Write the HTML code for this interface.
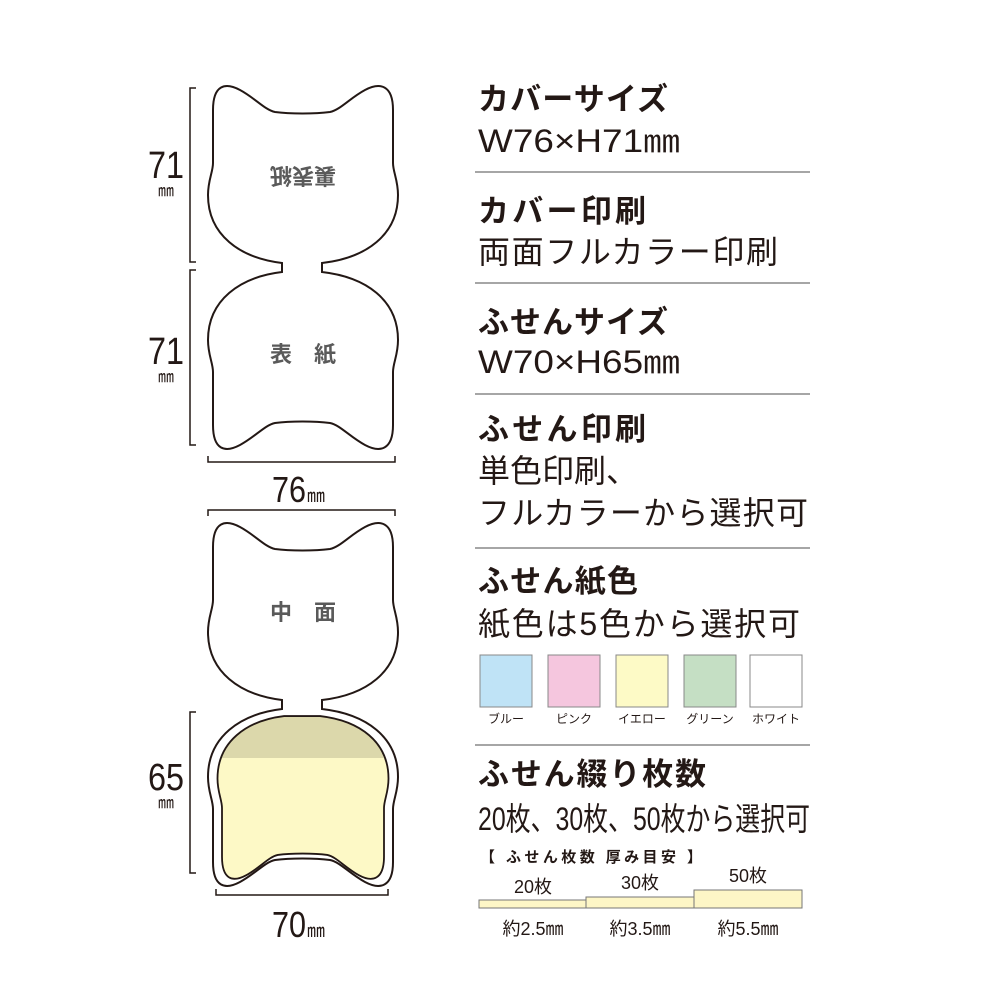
<!DOCTYPE html>
<html><head><meta charset="utf-8"><style>
html,body{margin:0;padding:0;background:#fff;}
svg{display:block;}
text{font-family:"Liberation Sans","Noto Sans CJK JP",sans-serif;fill:#231815;}
.h{font-size:31px;font-weight:bold;}
.r{font-size:32px;}
.lab{font-size:12px;}
.g{fill:#5a5a5a;font-weight:bold;font-size:22px;}
</style></head><body>
<svg width="1000" height="1000" viewBox="0 0 1000 1000" xmlns="http://www.w3.org/2000/svg">
<defs>
<path id="cat2" d="M282 263 C240 258,208 235,208 195 C208 180,213 172,213 163 L213 110 C213 85,225 82,240 90 C255 98,265 110,275 112 C290 114,315 114,330 112 C340 110,350 98,365 90 C380 82,393 85,393 110 L393 163 C393 172,398 180,398 195 C398 235,366 258,322 263 L322 272 C366 277,398 300,398 340 C398 355,393 363,393 372 L393 425 C393 450,380 453,365 445 C350 437,340 425,330 423 C315 421,290 421,275 423 C265 425,255 437,240 445 C225 453,213 450,213 425 L213 372 C213 363,208 355,208 340 C208 300,240 277,282 272 Z"/>
<path id="low" d="M322 272 C366 277,398 300,398 340 C398 355,393 363,393 372 L393 425 C393 450,380 453,365 445 C350 437,340 425,330 423 C315 421,290 421,275 423 C265 425,255 437,240 445 C225 453,213 450,213 425 L213 372 C213 363,208 355,208 340 C208 300,240 277,282 272 Z"/>
<clipPath id="inner"><use href="#low" transform="translate(303,797) scale(0.9,0.92) translate(-303,-360)"/></clipPath>
</defs>
<g fill="#fff" stroke="#231815" stroke-width="2">
<use href="#cat2"/>
<use href="#cat2" transform="translate(0,437)"/>
</g>
<g clip-path="url(#inner)">
<rect x="200" y="700" width="220" height="200" fill="#fdf9c6"/>
<rect x="200" y="700" width="220" height="58" fill="#dcd8ab"/>
</g>
<use href="#low" transform="translate(303,797) scale(0.9,0.92) translate(-303,-360)" fill="none" stroke="#231815" stroke-width="2"/>
<text class="g" x="303" y="184" text-anchor="middle" transform="rotate(180 303 176)">裏表紙</text>
<text class="g" x="303" y="362" text-anchor="middle">表　紙</text>
<text class="g" x="303" y="620" text-anchor="middle">中　面</text>
<g fill="none" stroke="#231815" stroke-width="1.5">
<path d="M196 88 H190 V262 H196"/>
<path d="M196 270 H190 V445 H196"/>
<path d="M208 456 V462 H395 V456"/>
<path d="M208 516 V510 H395 V516"/>
<path d="M196 712 H190 V873 H196"/>
<path d="M216 889 V895 H388 V889"/>
</g>
<g>
<text x="166" y="178" font-size="38" text-anchor="middle" textLength="36" lengthAdjust="spacingAndGlyphs">71</text>
<text x="166" y="196" font-size="16" text-anchor="middle">㎜</text>
<text x="166" y="364" font-size="38" text-anchor="middle" textLength="36" lengthAdjust="spacingAndGlyphs">71</text>
<text x="166" y="382" font-size="16" text-anchor="middle">㎜</text>
<text x="166" y="790" font-size="38" text-anchor="middle" textLength="36" lengthAdjust="spacingAndGlyphs">65</text>
<text x="166" y="808" font-size="16" text-anchor="middle">㎜</text>
<text x="272" y="502" font-size="36" textLength="34" lengthAdjust="spacingAndGlyphs">76</text>
<text x="307" y="502" font-size="18">㎜</text>
<text x="272" y="937" font-size="36" textLength="34" lengthAdjust="spacingAndGlyphs">70</text>
<text x="307" y="937" font-size="18">㎜</text>
</g>
<g stroke="#888" stroke-width="1.5">
<line x1="475" y1="172" x2="810" y2="172"/>
<line x1="475" y1="283" x2="810" y2="283"/>
<line x1="475" y1="394" x2="810" y2="394"/>
<line x1="475" y1="548" x2="810" y2="548"/>
<line x1="475" y1="745" x2="810" y2="745"/>
</g>
<text class="h" x="478" y="110" textLength="190">カバーサイズ</text>
<text class="r" x="478" y="152" textLength="202" lengthAdjust="spacingAndGlyphs">W76×H71㎜</text>
<text class="h" x="478" y="222" textLength="168">カバー印刷</text>
<text class="r" x="478" y="263" textLength="300">両面フルカラー印刷</text>
<text class="h" x="478" y="333" textLength="190">ふせんサイズ</text>
<text class="r" x="478" y="373" textLength="202" lengthAdjust="spacingAndGlyphs">W70×H65㎜</text>
<text class="h" x="478" y="440" textLength="168">ふせん印刷</text>
<text class="r" x="478" y="482">単色印刷、</text>
<text class="r" x="478" y="524" textLength="330">フルカラーから選択可</text>
<text class="h" x="478" y="592" textLength="160">ふせん紙色</text>
<text class="r" x="478" y="635" textLength="322">紙色は5色から選択可</text>
<g stroke="#888" stroke-width="1">
<rect x="480" y="655" width="52" height="52" fill="#bfe3f6"/>
<rect x="548" y="655" width="52" height="52" fill="#f5c6de"/>
<rect x="616" y="655" width="52" height="52" fill="#fdfac6"/>
<rect x="684" y="655" width="52" height="52" fill="#c5dfc4"/>
<rect x="750" y="655" width="52" height="52" fill="#fff"/>
</g>
<text class="lab" x="506" y="723" text-anchor="middle">ブルー</text>
<text class="lab" x="574" y="723" text-anchor="middle">ピンク</text>
<text class="lab" x="642" y="723" text-anchor="middle">イエロー</text>
<text class="lab" x="710" y="723" text-anchor="middle">グリーン</text>
<text class="lab" x="776" y="723" text-anchor="middle">ホワイト</text>
<text class="h" x="478" y="785" textLength="228">ふせん綴り枚数</text>
<text class="r" x="478" y="830" textLength="332" lengthAdjust="spacingAndGlyphs">20枚、30枚、50枚から選択可</text>
<text x="480" y="862" font-size="15" font-weight="bold" textLength="222">【 ふせん枚数 厚み目安 】</text>
<g stroke="#777" stroke-width="1" fill="#fdf6c6">
<rect x="479" y="900" width="107" height="8"/>
<rect x="586" y="897" width="108" height="11"/>
<rect x="694" y="890" width="108" height="18"/>
</g>
<text x="533" y="893" font-size="18" text-anchor="middle">20枚</text>
<text x="640" y="889" font-size="18" text-anchor="middle">30枚</text>
<text x="748" y="882" font-size="18" text-anchor="middle">50枚</text>
<text x="533" y="935" font-size="18" text-anchor="middle">約2.5㎜</text>
<text x="640" y="935" font-size="18" text-anchor="middle">約3.5㎜</text>
<text x="748" y="935" font-size="18" text-anchor="middle">約5.5㎜</text>
</svg>
</body></html>
